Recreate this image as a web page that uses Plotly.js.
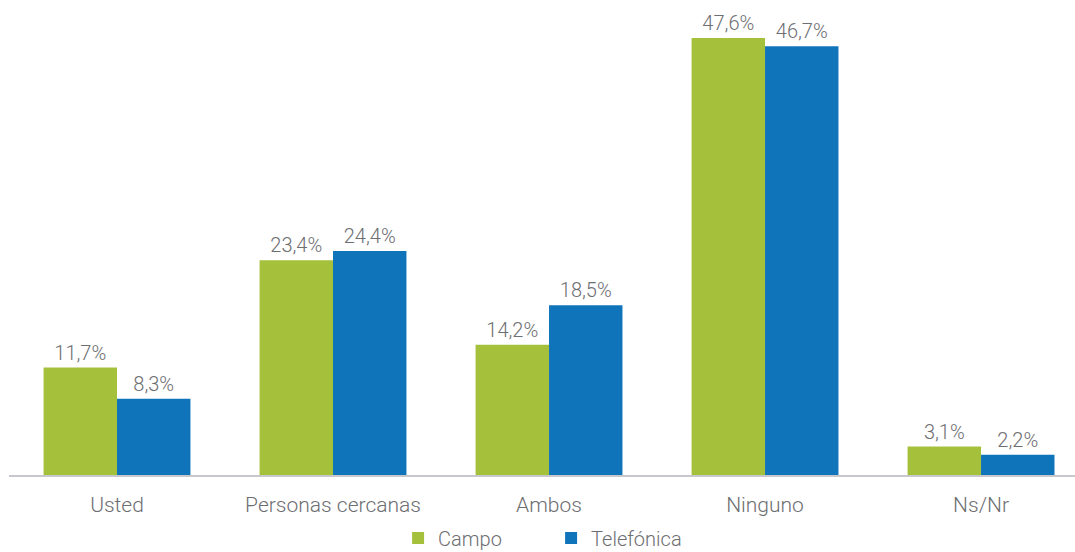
<!DOCTYPE html>
<html>
<head>
<meta charset="utf-8">
<script src="https://cdn.plot.ly/plotly-3.0.1.min.js"></script>
<style>html,body{margin:0;padding:0;background:#fff;}#chart{width:1075px;height:552px;}</style>
</head>
<body>
<div id="chart"></div>
<script>
var categories = ["Usted", "Personas cercanas", "Ambos", "Ninguno", "Ns/Nr"];
var campo = [11.7, 23.4, 14.2, 47.6, 3.1];
var telefonica = [8.3, 24.4, 18.5, 46.7, 2.2];
var seriesNames = ["Campo", "Telefónica"];

var fontFam = "Roboto, 'DejaVu Sans', sans-serif";
var textColor = "#6d6e71";
var fsize = 20;

var traces = [
  {type: "bar", name: seriesNames[0], x: categories, y: campo,
   marker: {color: "#a5c13c"}, texttemplate: "%{y:.1f}%", textposition: "outside",
   textfont: {family: fontFam, size: fsize, color: textColor, weight: 300}, cliponaxis: false},
  {type: "bar", name: seriesNames[1], x: categories, y: telefonica,
   marker: {color: "#1074bb"}, texttemplate: "%{y:.1f}%", textposition: "outside",
   textfont: {family: fontFam, size: fsize, color: textColor, weight: 300}, cliponaxis: false}
];

var layout = {
  width: 1075, height: 552,
  margin: {l: 9, r: 0, t: 16, b: 77, autoexpand: false},
  separators: ",.",
  barmode: "group", bargap: 0.32, bargroupgap: 0,
  paper_bgcolor: "#fff", plot_bgcolor: "#fff",
  font: {family: fontFam, size: fsize, color: textColor, weight: 300},
  xaxis: {type: "category", range: [-0.5, 4.435], showline: true, linecolor: "#c8c8cc", linewidth: 2,
          ticks: "", ticklabelstandoff: 10, tickfont: {family: fontFam, size: 21, color: textColor, weight: 300},
          showgrid: false, zeroline: false, automargin: false},
  yaxis: {range: [0, 50], visible: false, showgrid: false, zeroline: false},
  showlegend: true,
  legend: {orientation: "h", x: 0.365, xanchor: "left", y: -0.095, yanchor: "top",
           font: {family: fontFam, size: fsize, color: textColor, weight: 300},
           entrywidth: 108, itemwidth: 30, tracegroupgap: 0}
};

Plotly.newPlot("chart", traces, layout, {displayModeBar: false, staticPlot: true});
</script>
</body>
</html>
